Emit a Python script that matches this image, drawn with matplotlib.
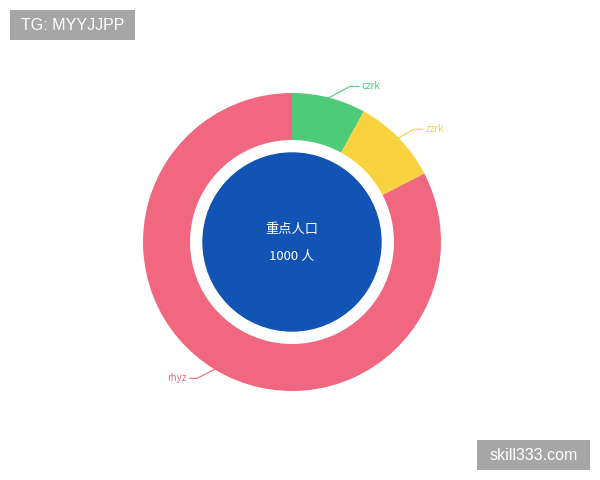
import numpy as np
import matplotlib
matplotlib.use('Agg')
import matplotlib.pyplot as plt
from matplotlib.patches import Rectangle

plt.rcParams['font.family'] = ['Noto Sans CJK SC', 'DejaVu Sans']

# 数据
names = ['czrk', 'zzrk', 'rhyz']
values = [80, 94, 826]
colors = ['#4ecb79', '#f9d33d', '#f0677f']
center_title = '重点人口'
unit = '人'

fig = plt.figure(figsize=(6, 4.8), dpi=100)
ax = fig.add_axes([0, 0, 1, 1])

cx, cy = 292, 238
R = 149
wedges, _ = ax.pie(values, colors=colors, startangle=90, counterclock=False,
                   radius=R, center=(cx, cy), frame=True,
                   wedgeprops=dict(width=47, linewidth=0))
ax.set_xlim(0, 600)
ax.set_ylim(0, 480)
ax.set_aspect('equal')
ax.axis('off')

# 中间蓝色圆
ax.add_patch(plt.Circle((cx, cy), 89, color='#1254b3', zorder=3))
ax.text(cx, cy + 13, center_title, color='white', fontsize=9.5,
        ha='center', va='center', zorder=4)
ax.text(cx, cy - 14, '%d %s' % (sum(values), unit), color='white', fontsize=9.5,
        ha='center', va='center', zorder=4)

# 标签引导线（拐点角度微调）
bend_shift = [-6, -1.5, -3.5]
for w, name, c, sh in zip(wedges, names, colors, bend_shift):
    mid = np.deg2rad((w.theta1 + w.theta2) / 2)
    b = mid + np.deg2rad(sh)
    x0, y0 = cx + R * np.cos(mid), cy + R * np.sin(mid)
    x1, y1 = cx + (R + 17) * np.cos(b), cy + (R + 17) * np.sin(b)
    if np.cos(mid) >= 0:
        x2 = x1 + 9
        ax.plot([x0, x1, x2], [y0, y1, y1], color=c, lw=0.8)
        ax.text(x2 + 3, y1, name, color=c, fontsize=7, ha='left', va='center')
    else:
        x2 = x1 - 8
        ax.plot([x0, x1, x2], [y0, y1, y1], color=c, lw=0.8)
        ax.text(x2 - 3, y1, name, color=c, fontsize=7, ha='right', va='center')

# 水印
fig.add_artist(Rectangle((10 / 600, 1 - 40 / 480), 125 / 600, 30 / 480,
                         transform=fig.transFigure, facecolor='#a6a6a6',
                         edgecolor='none'))
fig.text(72.5 / 600, 1 - 25 / 480, 'TG: MYYJJPP', color='white', fontsize=11.5,
         va='center', ha='center', family='Liberation Sans')
fig.add_artist(Rectangle((477 / 600, 1 - 470 / 480), 113 / 600, 30 / 480,
                         transform=fig.transFigure, facecolor='#a6a6a6',
                         edgecolor='none'))
fig.text(533.5 / 600, 1 - 455 / 480, 'skill333.com', color='white', fontsize=11.5,
         va='center', ha='center', family='Liberation Sans')

fig.savefig('out.png', dpi=100, facecolor='white')
